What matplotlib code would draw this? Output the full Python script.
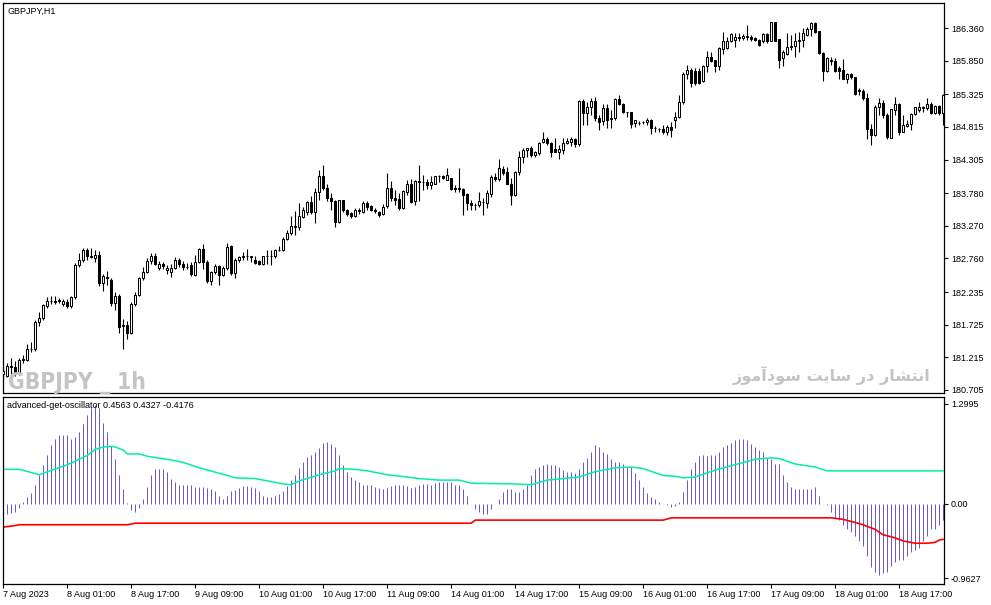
import numpy as np
import matplotlib
matplotlib.use('Agg')
import matplotlib.pyplot as plt
from matplotlib import font_manager

plt.rcParams['font.family'] = ['Liberation Sans', 'DejaVu Sans']

# GBPJPY H1 candles
open_p = [
    180.95, 180.92, 181.08, 181.06, 180.97, 181.17, 181.17, 181.34, 181.35, 181.76,
    181.83, 182.02, 182.09, 182.10, 182.10, 182.04, 182.08, 182.01, 182.15, 182.66,
    182.74, 182.89, 182.79, 182.77, 182.82, 182.37, 182.47, 182.43, 182.07, 182.17,
    181.71, 181.72, 181.60, 182.05, 182.19, 182.45, 182.55, 182.72, 182.80, 182.61,
    182.67, 182.58, 182.55, 182.61, 182.74, 182.68, 182.62, 182.66, 182.50, 182.71,
    182.90, 182.71, 182.40, 182.55, 182.64, 182.50, 182.61, 182.95, 182.53, 182.73,
    182.78, 182.79, 182.79, 182.74, 182.72, 182.68, 182.79, 182.80, 182.79, 182.89,
    182.89, 183.07, 183.16, 183.26, 183.25, 183.41, 183.49, 183.64, 183.48, 183.79,
    184.05, 183.86, 183.71, 183.66, 183.33, 183.67, 183.51, 183.47, 183.43, 183.50,
    183.49, 183.63, 183.58, 183.51, 183.49, 183.46, 183.58, 183.86, 183.71, 183.69,
    183.54, 183.80, 183.93, 183.65, 183.97, 183.96, 183.95, 183.90, 183.93, 184.05,
    184.05, 183.98, 184.01, 183.86, 183.86, 183.85, 183.77, 183.63, 183.59, 183.59,
    183.64, 183.62, 183.76, 184.03, 184.00, 184.16, 184.11, 183.93, 183.75, 184.11,
    184.35, 184.45, 184.48, 184.38, 184.40, 184.58, 184.63, 184.57, 184.47, 184.43,
    184.46, 184.56, 184.58, 184.62, 184.55, 185.22, 185.03, 185.13, 185.22, 184.95,
    184.90, 185.11, 184.94, 184.95, 185.25, 185.18, 185.04, 185.04, 184.87, 184.88,
    184.89, 184.89, 184.92, 184.80, 184.78, 184.78, 184.73, 184.81, 184.93, 184.97,
    185.20, 185.64, 185.70, 185.69, 185.69, 185.53, 185.76, 185.91, 185.86, 185.76,
    186.04, 186.05, 186.15, 186.17, 186.22, 186.20, 186.23, 186.22, 186.20, 186.18,
    186.15, 186.27, 186.16, 186.45, 186.19, 185.89, 185.96, 186.07, 186.08, 186.15,
    186.17, 186.25, 186.34, 186.44, 186.32, 185.97, 185.69, 185.86, 185.84, 185.73,
    185.71, 185.57, 185.64, 185.59, 185.39, 185.38, 185.26, 184.78, 184.69, 185.13,
    185.19, 185.00, 184.64, 185.08, 185.18, 184.74, 184.83, 184.86, 185.02, 185.08,
    185.12, 185.11, 185.17, 185.03, 185.14, 185.03,
]
high_p = [
    181.05, 181.12, 181.20, 181.15, 181.20, 181.25, 181.42, 181.45, 181.80, 181.93,
    182.05, 182.15, 182.18, 182.17, 182.14, 182.13, 182.12, 182.18, 182.69, 182.84,
    182.93, 182.93, 182.92, 182.89, 182.88, 182.52, 182.57, 182.45, 182.24, 182.20,
    181.82, 181.78, 182.08, 182.23, 182.47, 182.62, 182.77, 182.85, 182.84, 182.72,
    182.70, 182.66, 182.67, 182.78, 182.77, 182.72, 182.69, 182.71, 182.81, 182.93,
    182.98, 182.73, 182.57, 182.68, 182.66, 182.64, 183.00, 182.97, 182.77, 182.80,
    182.86, 182.90, 182.80, 182.79, 182.73, 182.80, 182.89, 182.89, 182.91, 182.95,
    183.09, 183.20, 183.42, 183.50, 183.62, 183.56, 183.65, 183.73, 183.86, 184.14,
    184.22, 183.93, 183.78, 183.67, 183.68, 183.68, 183.53, 183.49, 183.54, 183.55,
    183.65, 183.66, 183.59, 183.54, 183.50, 183.61, 184.09, 183.97, 183.83, 183.78,
    183.83, 183.99, 184.00, 183.99, 184.22, 184.07, 184.00, 184.04, 184.05, 184.06,
    184.06, 184.18, 184.02, 183.90, 184.18, 183.86, 183.78, 183.67, 183.62, 183.80,
    183.70, 183.83, 184.06, 184.09, 184.31, 184.21, 184.19, 184.01, 184.12, 184.44,
    184.49, 184.49, 184.51, 184.44, 184.58, 184.73, 184.66, 184.58, 184.64, 184.53,
    184.64, 184.64, 184.65, 184.64, 185.24, 185.25, 185.20, 185.26, 185.29, 185.00,
    185.17, 185.17, 185.08, 185.26, 185.31, 185.19, 185.05, 185.05, 184.92, 184.91,
    184.90, 184.95, 184.94, 184.83, 184.80, 184.84, 184.84, 184.89, 185.04, 185.32,
    185.68, 185.78, 185.73, 185.73, 185.73, 185.79, 186.00, 185.98, 185.86, 186.07,
    186.30, 186.22, 186.28, 186.28, 186.28, 186.26, 186.40, 186.25, 186.22, 186.19,
    186.28, 186.29, 186.46, 186.46, 186.19, 186.02, 186.28, 186.25, 186.28, 186.30,
    186.36, 186.38, 186.46, 186.46, 186.32, 185.99, 185.90, 185.91, 185.89, 185.76,
    185.87, 185.65, 185.65, 185.60, 185.43, 185.40, 185.34, 184.86, 185.16, 185.26,
    185.24, 185.03, 185.10, 185.28, 185.19, 185.00, 184.92, 185.03, 185.13, 185.21,
    185.14, 185.26, 185.21, 185.16, 185.16, 185.33,
]
low_p = [
    180.86, 180.90, 180.92, 180.93, 180.94, 181.12, 181.16, 181.30, 181.32, 181.70,
    181.80, 181.98, 182.04, 182.04, 182.06, 182.02, 181.99, 181.99, 182.13, 182.62,
    182.70, 182.74, 182.76, 182.70, 182.33, 182.25, 182.34, 182.02, 181.95, 181.60,
    181.34, 181.50, 181.58, 182.02, 182.17, 182.43, 182.53, 182.68, 182.66, 182.58,
    182.59, 182.52, 182.47, 182.59, 182.63, 182.58, 182.60, 182.49, 182.48, 182.69,
    182.60, 182.37, 182.34, 182.51, 182.34, 182.48, 182.58, 182.50, 182.46, 182.70,
    182.73, 182.73, 182.71, 182.68, 182.66, 182.66, 182.68, 182.66, 182.77, 182.87,
    182.87, 183.05, 183.13, 183.13, 183.21, 183.39, 183.44, 183.46, 183.31, 183.68,
    183.83, 183.65, 183.52, 183.25, 183.31, 183.49, 183.42, 183.39, 183.41, 183.46,
    183.47, 183.52, 183.50, 183.47, 183.41, 183.44, 183.54, 183.66, 183.59, 183.52,
    183.53, 183.75, 183.62, 183.59, 183.66, 183.83, 183.85, 183.84, 183.92, 183.95,
    184.00, 183.98, 183.83, 183.80, 183.80, 183.44, 183.52, 183.52, 183.52, 183.57,
    183.44, 183.54, 183.72, 183.97, 183.97, 184.06, 183.92, 183.60, 183.74, 184.06,
    184.25, 184.35, 184.35, 184.35, 184.38, 184.56, 184.53, 184.35, 184.43, 184.31,
    184.39, 184.55, 184.52, 184.50, 184.52, 184.84, 184.84, 185.00, 184.91, 184.77,
    184.84, 184.79, 184.79, 184.92, 185.16, 185.03, 184.97, 184.79, 184.82, 184.85,
    184.86, 184.84, 184.71, 184.74, 184.74, 184.71, 184.69, 184.66, 184.80, 184.95,
    185.18, 185.57, 185.44, 185.47, 185.48, 185.52, 185.68, 185.83, 185.68, 185.70,
    185.96, 186.04, 186.14, 186.07, 186.16, 186.17, 186.17, 186.15, 186.15, 186.08,
    186.12, 186.12, 186.15, 186.15, 185.74, 185.76, 185.94, 186.02, 185.91, 185.99,
    186.07, 186.23, 186.23, 186.28, 185.96, 185.54, 185.68, 185.78, 185.68, 185.57,
    185.56, 185.50, 185.57, 185.31, 185.32, 185.24, 184.62, 184.53, 184.67, 185.00,
    184.95, 184.62, 184.64, 185.00, 184.69, 184.74, 184.82, 184.77, 185.00, 185.05,
    185.05, 185.08, 185.02, 185.02, 185.00, 184.84,
]
close_p = [
    181.00, 181.08, 181.06, 180.97, 181.17, 181.19, 181.34, 181.35, 181.77, 181.83,
    182.03, 182.09, 182.10, 182.08, 182.11, 182.10, 182.01, 182.15, 182.66, 182.74,
    182.89, 182.79, 182.78, 182.82, 182.37, 182.48, 182.45, 182.07, 182.17, 181.69,
    181.72, 181.60, 182.05, 182.19, 182.45, 182.55, 182.72, 182.80, 182.68, 182.67,
    182.64, 182.61, 182.61, 182.74, 182.68, 182.62, 182.63, 182.51, 182.71, 182.90,
    182.71, 182.40, 182.55, 182.64, 182.50, 182.61, 182.94, 182.53, 182.74, 182.78,
    182.79, 182.79, 182.78, 182.69, 182.68, 182.79, 182.80, 182.80, 182.89, 182.89,
    183.07, 183.16, 183.26, 183.25, 183.42, 183.52, 183.64, 183.48, 183.79, 184.04,
    183.86, 183.71, 183.65, 183.33, 183.67, 183.51, 183.45, 183.42, 183.52, 183.51,
    183.63, 183.57, 183.52, 183.50, 183.44, 183.57, 183.86, 183.71, 183.67, 183.55,
    183.81, 183.93, 183.64, 183.97, 183.96, 183.96, 183.90, 183.95, 184.04, 184.05,
    184.01, 184.06, 183.84, 183.85, 183.85, 183.75, 183.62, 183.59, 183.60, 183.65,
    183.64, 183.78, 184.03, 184.00, 184.17, 184.09, 183.93, 183.75, 184.11, 184.35,
    184.45, 184.48, 184.38, 184.42, 184.57, 184.63, 184.56, 184.43, 184.43, 184.47,
    184.56, 184.59, 184.62, 184.55, 185.22, 185.03, 185.13, 185.22, 184.95, 184.89,
    185.11, 184.92, 184.95, 185.25, 185.18, 185.04, 185.04, 184.86, 184.92, 184.88,
    184.89, 184.92, 184.80, 184.80, 184.78, 184.73, 184.82, 184.77, 184.97, 185.20,
    185.64, 185.70, 185.50, 185.50, 185.50, 185.76, 185.91, 185.84, 185.76, 186.05,
    186.16, 186.16, 186.26, 186.22, 186.20, 186.24, 186.22, 186.19, 186.17, 186.09,
    186.26, 186.15, 186.45, 186.16, 185.86, 185.99, 186.07, 186.08, 186.16, 186.18,
    186.28, 186.35, 186.44, 186.30, 185.97, 185.69, 185.89, 185.84, 185.69, 185.69,
    185.57, 185.64, 185.59, 185.33, 185.37, 185.26, 184.78, 184.69, 185.13, 185.19,
    185.00, 184.65, 185.09, 185.18, 184.74, 184.84, 184.86, 185.02, 185.12, 185.12,
    185.11, 185.17, 185.03, 185.14, 185.03, 185.31,
]

# advanced-get-oscillator histogram, one value per bar
osc_hist = [
    -0.18, -0.13, -0.12, -0.11, -0.05, 0.02, 0.09, 0.14, 0.25, 0.38,
    0.50, 0.63, 0.76, 0.85, 0.90, 0.90, 0.89, 0.85, 0.87, 0.93,
    1.04, 1.15, 1.25, 1.28, 1.25, 1.05, 0.93, 0.75, 0.58, 0.38,
    0.19, 0.01, -0.08, -0.11, -0.05, 0.07, 0.22, 0.37, 0.45, 0.46,
    0.46, 0.41, 0.32, 0.28, 0.25, 0.24, 0.24, 0.24, 0.22, 0.22,
    0.22, 0.21, 0.19, 0.17, 0.10, 0.07, 0.11, 0.17, 0.18, 0.21,
    0.23, 0.23, 0.22, 0.21, 0.17, 0.11, 0.09, 0.09, 0.11, 0.13,
    0.17, 0.23, 0.31, 0.37, 0.47, 0.55, 0.61, 0.64, 0.67, 0.73,
    0.79, 0.81, 0.78, 0.74, 0.63, 0.51, 0.41, 0.35, 0.31, 0.28,
    0.25, 0.25, 0.25, 0.22, 0.21, 0.19, 0.21, 0.23, 0.24, 0.25,
    0.25, 0.23, 0.21, 0.22, 0.25, 0.26, 0.26, 0.25, 0.27, 0.28,
    0.29, 0.29, 0.28, 0.25, 0.25, 0.19, 0.10, 0.00, -0.06, -0.11,
    -0.13, -0.13, -0.07, 0.00, 0.06, 0.16, 0.20, 0.19, 0.15, 0.15,
    0.19, 0.24, 0.37, 0.45, 0.48, 0.51, 0.52, 0.51, 0.50, 0.48,
    0.44, 0.42, 0.42, 0.40, 0.45, 0.54, 0.60, 0.67, 0.76, 0.74,
    0.68, 0.65, 0.58, 0.55, 0.54, 0.52, 0.48, 0.48, 0.40, 0.31,
    0.22, 0.14, 0.09, 0.06, 0.02, 0.00, -0.01, -0.04, -0.02, 0.03,
    0.15, 0.31, 0.45, 0.54, 0.62, 0.63, 0.62, 0.64, 0.64, 0.67,
    0.74, 0.76, 0.79, 0.83, 0.84, 0.84, 0.83, 0.78, 0.74, 0.70,
    0.67, 0.60, 0.58, 0.52, 0.52, 0.38, 0.29, 0.22, 0.19, 0.19,
    0.19, 0.19, 0.19, 0.22, 0.11, 0.00, -0.01, -0.10, -0.18, -0.21,
    -0.27, -0.32, -0.36, -0.42, -0.48, -0.54, -0.67, -0.82, -0.89, -0.92,
    -0.90, -0.89, -0.81, -0.76, -0.73, -0.73, -0.68, -0.63, -0.60, -0.57,
    -0.48, -0.41, -0.33, -0.32, -0.27, -0.21,
]

# upper (aqua) and lower (red) lines: bar index / value at the visible bends
upper_idx = [0, 4, 9, 10, 16, 21, 23, 25, 27, 28, 30, 31, 34, 36, 41, 45, 49, 56, 58,
             63, 66, 70, 72, 74, 79, 83, 84, 88, 91, 96, 101, 104, 109, 114, 117, 128,
             132, 136, 140, 144, 148, 153, 157, 160, 165, 168, 170, 173, 178, 183, 188,
             192, 194, 198, 203, 206, 235]
upper_val = [0.45, 0.45, 0.38, 0.40, 0.51, 0.63, 0.71, 0.74, 0.75, 0.74, 0.70, 0.65,
             0.65, 0.62, 0.58, 0.54, 0.47, 0.37, 0.34, 0.33, 0.30, 0.26, 0.25, 0.30,
             0.38, 0.43, 0.46, 0.45, 0.43, 0.38, 0.35, 0.33, 0.31, 0.31, 0.27, 0.26,
             0.25, 0.31, 0.33, 0.35, 0.42, 0.47, 0.48, 0.46, 0.37, 0.36, 0.34, 0.35,
             0.44, 0.51, 0.58, 0.60, 0.59, 0.52, 0.48, 0.43, 0.43]
lower_idx = [0, 3, 4, 31, 33, 117, 118, 165, 167, 207, 210, 213, 215, 218, 220, 223,
             225, 228, 231, 233, 234, 235]
lower_val = [-0.30, -0.28, -0.27, -0.27, -0.25, -0.25, -0.21, -0.21, -0.18, -0.18,
             -0.20, -0.24, -0.27, -0.33, -0.40, -0.44, -0.48, -0.51, -0.51, -0.50,
             -0.47, -0.46]

price_ticks = [186.360, 185.850, 185.325, 184.815, 184.305, 183.780,
               183.270, 182.760, 182.235, 181.725, 181.215, 180.705]
osc_ticks = [1.2995, 0.0, -0.9627]
osc_tick_labels = ['1.2995', '0.00', '-0.9627']
time_labels = ['7 Aug 2023', '8 Aug 01:00', '8 Aug 17:00', '9 Aug 09:00',
               '10 Aug 01:00', '10 Aug 17:00', '11 Aug 09:00', '14 Aug 01:00',
               '14 Aug 17:00', '15 Aug 09:00', '16 Aug 01:00', '16 Aug 17:00',
               '17 Aug 09:00', '18 Aug 01:00', '18 Aug 17:00']
time_step = 16

watermark_en = 'GBPJPY _ 1h'
watermark_fa = 'انتشار در سایت سودآموز'

# minimal Arabic-script shaping (matplotlib draws glyphs unjoined, left to right)
AR_FORMS = {
    'ا': ('\uFE8D', '\uFE8E', None, None),
    'آ': ('\uFE81', '\uFE82', None, None),
    'د': ('\uFEA9', '\uFEAA', None, None),
    'ر': ('\uFEAD', '\uFEAE', None, None),
    'ز': ('\uFEAF', '\uFEB0', None, None),
    'و': ('\uFEED', '\uFEEE', None, None),
    'ن': ('\uFEE5', '\uFEE6', '\uFEE7', '\uFEE8'),
    'ت': ('\uFE95', '\uFE96', '\uFE97', '\uFE98'),
    'ش': ('\uFEB5', '\uFEB6', '\uFEB7', '\uFEB8'),
    'س': ('\uFEB1', '\uFEB2', '\uFEB3', '\uFEB4'),
    'م': ('\uFEE1', '\uFEE2', '\uFEE3', '\uFEE4'),
    'ی': ('\uFBFC', '\uFBFD', '\uFEF3', '\uFEF4'),
}


def shape_rtl(text):
    out = []
    for k, ch in enumerate(text):
        f = AR_FORMS.get(ch)
        if f is None:
            out.append(ch)
            continue
        prev = text[k - 1] if k > 0 else ''
        nxt = text[k + 1] if k + 1 < len(text) else ''
        jp = prev in AR_FORMS and AR_FORMS[prev][2] is not None
        jn = f[2] is not None and nxt in AR_FORMS
        if jp and jn:
            out.append(f[3])
        elif jp:
            out.append(f[1])
        elif jn:
            out.append(f[2])
        else:
            out.append(f[0])
    return ''.join(reversed(out))


def narrow_bold_font():
    # look for a condensed / narrow bold face for the big watermark
    prefs = ['liberationsansnarrow-bold.', 'dejavusanscondensed-bold.',
             'notosans-condensedbold.', 'opensans-condensedbold.']
    files = [f.fname for f in font_manager.fontManager.ttflist]
    for p in prefs:
        for fn in files:
            if fn.lower().replace('\\', '/').split('/')[-1].startswith(p):
                return font_manager.FontProperties(fname=fn)
    return font_manager.FontProperties(family=['Liberation Sans', 'DejaVu Sans'],
                                       weight='bold')


o = np.array(open_p)
h = np.array(high_p)
l = np.array(low_p)
c = np.array(close_p)
x = np.arange(len(c))
up = c >= o

W, H = 991, 605
fig = plt.figure(figsize=(W / 100, H / 100), dpi=100)
ax = fig.add_axes([3 / W, 1 - 393 / H, 941 / W, 390 / H])
ax2 = fig.add_axes([3 / W, 1 - 584 / H, 941 / W, 187 / H])

# candles
ax.vlines(x, l, h, color='black', lw=0.8, zorder=2)
bot = np.minimum(o, c)
hgt = np.abs(c - o)
ax.bar(x[up], hgt[up], bottom=bot[up], width=0.55, facecolor='white',
       edgecolor='black', linewidth=0.75, zorder=3)
ax.bar(x[~up], hgt[~up], bottom=bot[~up], width=0.55, facecolor='black',
       edgecolor='black', linewidth=0.75, zorder=3)

ax.set_xlim(-0.1, len(c) - 0.75)
ax.set_ylim(180.657, 186.751)
ax.set_xticks([])
ax.yaxis.tick_right()
ax.set_yticks(price_ticks)
ax.set_yticklabels([f'{v:.3f}' for v in price_ticks])
ax.tick_params(axis='y', direction='out', length=3, width=0.8, labelsize=6.5, pad=2)
for s in ax.spines.values():
    s.set_linewidth(0.9)

fig.text(7 / W, 1 - 11 / H, 'GBPJPY,H1', fontsize=6.5, va='center', ha='left')

wm_en = fig.text(8 / W, 1 - 389 / H, watermark_en, fontproperties=narrow_bold_font(),
                 fontsize=20, color='#c4c4c4', ha='left', va='baseline', zorder=0.5)
wm_fa = fig.text(930 / W, 1 - 375 / H, shape_rtl(watermark_fa), fontsize=13,
                 fontweight='bold', color='#c4c4c4', ha='right', va='center',
                 family=['DejaVu Sans'], zorder=0.5)
ax.set_facecolor('none')
ax2.set_facecolor('none')

# oscillator
ax2.vlines(x, 0, osc_hist, color='#6a5acd', lw=0.72, snap=True)
ax2.plot(upper_idx, upper_val, color='#00f0a0', lw=1.1)
ax2.plot(lower_idx, lower_val, color='#ff0000', lw=1.2)
ax2.set_xlim(-0.1, len(c) - 0.75)
ax2.set_ylim(-1.040, 1.390)
ax2.yaxis.tick_right()
ax2.set_yticks(osc_ticks)
ax2.set_yticklabels(osc_tick_labels)
ax2.tick_params(axis='y', direction='out', length=3, width=0.8, labelsize=6.5, pad=2)
ax2.set_xticks(np.arange(len(time_labels)) * time_step)
ax2.set_xticklabels(time_labels)
for t in ax2.get_xticklabels():
    t.set_ha('left')
ax2.tick_params(axis='x', direction='out', length=3, width=0.8, labelsize=6.5, pad=1)
for s in ax2.spines.values():
    s.set_linewidth(0.9)

fig.text(7 / W, 1 - 405 / H, 'advanced-get-oscillator 0.4563 0.4327 -0.4176',
         fontsize=6.5, va='center', ha='left')

# fit the two watermarks to their width in the screenshot
fig.canvas.draw()
rend = fig.canvas.get_renderer()
for t, target in ((wm_en, 137.0), (wm_fa, 197.0)):
    bb = t.get_window_extent(rend)
    if bb.width > 0:
        t.set_fontsize(t.get_fontsize() * target / bb.width)

fig.savefig('out.png', dpi=100)
